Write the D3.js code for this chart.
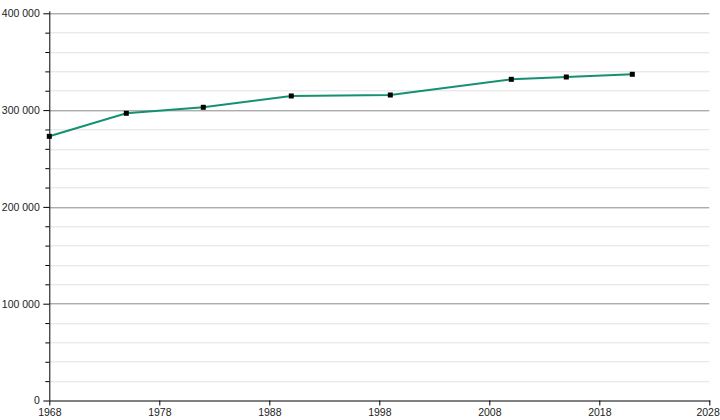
<!DOCTYPE html>
<html>
<head>
<meta charset="utf-8">
<script src="https://cdn.jsdelivr.net/npm/d3@7"></script>
<style>
  body { margin: 0; background: #fff; }
  text { font-family: "Liberation Sans", Arial, sans-serif; }
</style>
</head>
<body>
<div id="vis"></div>
<script>
// census years and population
const years = [1968, 1975, 1982, 1990, 1999, 2010, 2015, 2021];
const population = [272900, 296700, 302900, 314600, 315600, 331800, 334200, 337000];
const xTicks = [1968, 1978, 1988, 1998, 2008, 2018, 2028];
const yTicks = [0, 100000, 200000, 300000, 400000];

var margin = { top: 13.3, right: 10.7, bottom: 19.5, left: 49.3 },
    width = 720 - margin.left - margin.right,
    height = 420 - margin.top - margin.bottom;

var svg = d3.select("#vis")
  .append("svg")
    .attr("width", 720)
    .attr("height", 420);

var g = svg.append("g")
  .attr("transform", "translate(" + margin.left + "," + margin.top + ")");

var x = d3.scaleLinear().domain([1968, 2028]).range([0, width]);
var y = d3.scaleLinear().domain([0, 400000]).range([height, 0]);

var fmt = d => d3.format(",")(d).replace(/,/g, " ");

// minor grid every 20 000
var minor = d3.range(20000, 400000, 20000).filter(v => v % 100000 !== 0);
g.append("g")
  .selectAll("line")
  .data(minor)
  .enter()
  .append("line")
    .attr("x1", 0)
    .attr("x2", width)
    .attr("y1", d => Math.round(y(d)) + 0.5)
    .attr("y2", d => Math.round(y(d)) + 0.5)
    .attr("stroke", "#e2e2e2");

// major grid
g.append("g")
  .selectAll("line")
  .data(yTicks.filter(d => d > 0))
  .enter()
  .append("line")
    .attr("x1", 0)
    .attr("x2", width)
    .attr("y1", d => Math.round(y(d)) + 0.5)
    .attr("y2", d => Math.round(y(d)) + 0.5)
    .attr("stroke", "#8a8a8a");

// Y axis with minor ticks
var yAxisMinor = g.append("g")
  .call(d3.axisLeft(y).tickValues(minor).tickSize(4).tickFormat(""));
yAxisMinor.select(".domain").remove();

var yAxis = g.append("g")
  .attr("color", "#000")
  .call(d3.axisLeft(y).tickValues(yTicks).tickSize(6).tickFormat(fmt));
yAxis.selectAll("text")
  .style("font-size", "10.5px")
  .attr("fill", "#222")
  .attr("x", -9.5);
yAxis.select(".domain").attr("d", "M0.5," + (y(400000) - 2) + "V" + height);

// X axis
var xAxis = g.append("g")
  .attr("color", "#000")
  .attr("transform", "translate(0," + height + ")")
  .call(d3.axisBottom(x).tickValues(xTicks).tickSize(5).tickFormat(d3.format("d")));
xAxis.selectAll("text")
  .style("font-size", "10.5px")
  .attr("fill", "#222")
  .attr("y", 8);
// keep the last label inside the window
xAxis.selectAll(".tick").filter(d => d === 2028).select("text")
  .attr("text-anchor", "end")
  .attr("x", 10);
xAxis.select(".domain").attr("d", "M0,0.5H" + (width + 1));

var pts = years.map((yr, i) => ({ year: yr, value: population[i] }));

// line
g.append("path")
  .datum(pts)
  .attr("fill", "none")
  .attr("stroke", "#159070")
  .attr("stroke-width", 2)
  .attr("d", d3.line().x(d => x(d.year)).y(d => y(d.value)));

// markers
g.append("g")
  .selectAll("rect")
  .data(pts)
  .enter()
  .append("rect")
    .attr("x", d => x(d.year) - 2.5)
    .attr("y", d => y(d.value) - 2.5)
    .attr("width", 5)
    .attr("height", 5)
    .attr("fill", "#000");
</script>
</body>
</html>
